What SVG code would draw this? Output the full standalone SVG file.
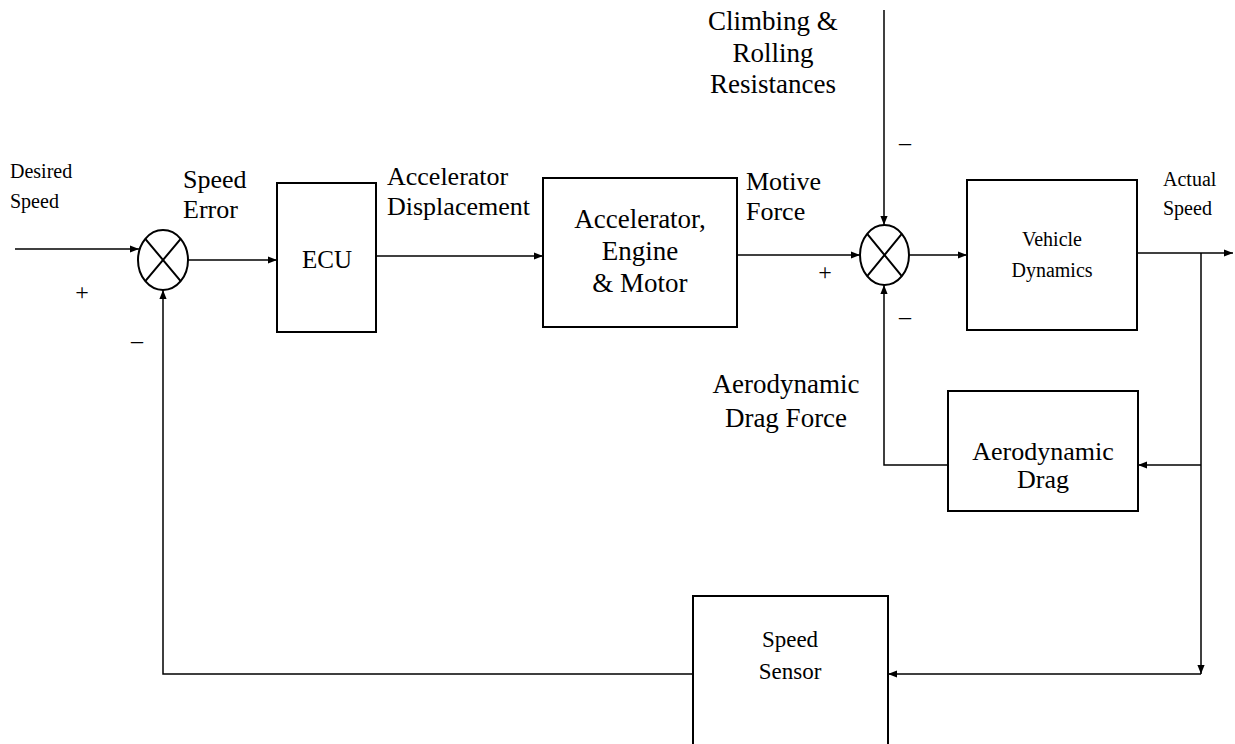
<svg xmlns="http://www.w3.org/2000/svg" width="1235" height="744" viewBox="0 0 1235 744" font-family="'Liberation Serif', 'DejaVu Serif', serif">
<style>
.box{fill:#fff;stroke:#000;stroke-width:2}
.sum{fill:#fff;stroke:#000;stroke-width:2}
.ln{fill:none;stroke:#000;stroke-width:1.5}
text{font-family:'Liberation Serif', serif;fill:#000}
.c{text-anchor:middle}
</style>
<defs>
<marker id="ah" viewBox="0 0 10 10" refX="10" refY="5" markerWidth="9" markerHeight="9" markerUnits="userSpaceOnUse" orient="auto">
<path d="M0,1 L10,5 L0,9 z" fill="#000"/>
</marker>
</defs>
<rect width="1235" height="744" fill="#fff"/>
<g id="connectors" class="ln">
<path class="ln" d="M15,249 L139,249" marker-end="url(#ah)"/>
<path class="ln" d="M188,260 L277,260" marker-end="url(#ah)"/>
<path class="ln" d="M376,256 L543,256" marker-end="url(#ah)"/>
<path class="ln" d="M737,255 L860,255" marker-end="url(#ah)"/>
<path class="ln" d="M884,10 L884,225" marker-end="url(#ah)"/>
<path class="ln" d="M909,255 L967,255" marker-end="url(#ah)"/>
<path class="ln" d="M1137,253 L1233,253" marker-end="url(#ah)"/>
<path class="ln" d="M1201,253 L1201,674" marker-end="url(#ah)"/>
<path class="ln" d="M1201,674 L888,674" marker-end="url(#ah)"/>
<path class="ln" d="M1201,465 L1138,465" marker-end="url(#ah)"/>
<path class="ln" d="M948,465 L884,465 L884,285" marker-end="url(#ah)"/>
<path class="ln" d="M693,674 L163,674 L163,290" marker-end="url(#ah)"/>
</g>
<g id="sum1">
<ellipse class="sum" cx="163" cy="260" rx="25" ry="30"/>
<path class="ln" d="M145.3,238.8 L180.7,281.2 M180.7,238.8 L145.3,281.2" style="stroke-width:2"/>
</g>
<g id="sum2">
<ellipse class="sum" cx="884.5" cy="255" rx="24.5" ry="30"/>
<path class="ln" d="M867.2,233.8 L901.8,276.2 M901.8,233.8 L867.2,276.2" style="stroke-width:2"/>
</g>
<g id="ecu">
<rect class="box" x="277" y="183" width="99" height="149"/>
<text class="c" x="327" y="268" font-size="25">ECU</text>
</g>
<g id="engine">
<rect class="box" x="543" y="178" width="194" height="149"/>
<text class="c" x="640" y="228" font-size="27">Accelerator,</text>
<text class="c" x="640" y="260" font-size="27">Engine</text>
<text class="c" x="640" y="292" font-size="27">&amp; Motor</text>
</g>
<g id="vehicle">
<rect class="box" x="967" y="180" width="170" height="150"/>
<text class="c" x="1052" y="246" font-size="20">Vehicle</text>
<text class="c" x="1052" y="277" font-size="20">Dynamics</text>
</g>
<g id="aero">
<rect class="box" x="948" y="391" width="190" height="120"/>
<text class="c" x="1043" y="460" font-size="26">Aerodynamic</text>
<text class="c" x="1043" y="488" font-size="26">Drag</text>
</g>
<g id="sensor">
<rect class="box" x="693" y="596" width="195" height="160"/>
<text class="c" x="790" y="647" font-size="23">Speed</text>
<text class="c" x="790" y="679" font-size="23">Sensor</text>
</g>
<g id="labels">
<text x="10" y="178" font-size="20">Desired</text>
<text x="10" y="208" font-size="20">Speed</text>
<text x="183" y="188" font-size="26">Speed</text>
<text x="183" y="218" font-size="26">Error</text>
<text x="387" y="185" font-size="26">Accelerator</text>
<text x="387" y="215" font-size="26">Displacement</text>
<text x="746" y="190" font-size="26">Motive</text>
<text x="746" y="220" font-size="26">Force</text>
<text class="c" x="773" y="30" font-size="27">Climbing &amp;</text>
<text class="c" x="773" y="62" font-size="27">Rolling</text>
<text class="c" x="773" y="93" font-size="27">Resistances</text>
<text x="1163" y="186" font-size="20">Actual</text>
<text x="1163" y="215" font-size="20">Speed</text>
<text class="c" x="786" y="393" font-size="27">Aerodynamic</text>
<text class="c" x="786" y="427" font-size="27">Drag Force</text>
<text class="c" x="82" y="300" font-size="24">+</text>
<text class="c" x="137" y="348" font-size="24">–</text>
<text class="c" x="825" y="280" font-size="24">+</text>
<text class="c" x="905" y="150" font-size="24">–</text>
<text class="c" x="905" y="324" font-size="24">–</text>
</g>
</svg>
